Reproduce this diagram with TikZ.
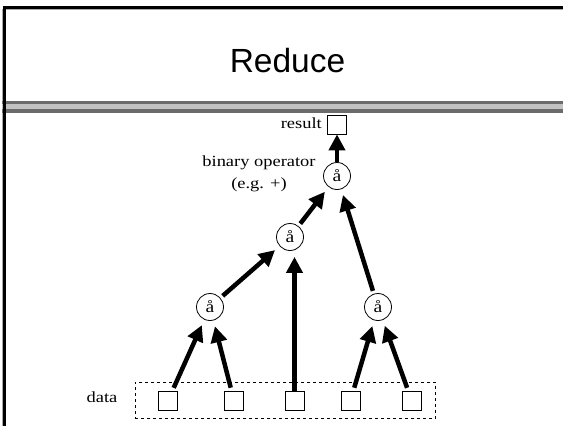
\documentclass[tikz,border=0pt]{standalone}
\usepackage{fontspec}
\setmainfont{Liberation Serif}
\newfontfamily\titlefont{Liberation Sans}
\newfontfamily\lblfont[FakeStretch=1.19]{Liberation Serif}
\usetikzlibrary{arrows.meta}
\definecolor{banddark}{RGB}{107,107,107}
\definecolor{bandlight}{RGB}{194,194,194}
\definecolor{frameshadow}{RGB}{170,170,170}
\begin{document}
\begin{tikzpicture}[x=1pt,y=-1pt,
  opnode/.style={circle,draw,line width=0.8pt,minimum size=27pt,inner sep=0pt,font=\lblfont\fontsize{16.5}{16.5}\selectfont},
  cell/.style={rectangle,draw,line width=0.8pt,minimum size=19pt,inner sep=0pt},
  flow/.style={line width=4.5pt,-{Triangle[length=16pt,width=16pt]},shorten >=6pt,shorten <=3pt},
  lbl/.style={font=\lblfont\fontsize{15.5}{15.5}\selectfont}]
\useasboundingbox (0,0) rectangle (563,426);
\fill[white] (0,0) rectangle (563,426);
% slide frame
\draw[frameshadow,line width=1.3pt] (2.6,426) -- (2.6,9.4) -- (563,9.4);
\fill[banddark] (2,100.7) rectangle (563,113.3);
\fill[bandlight] (2,103.7) rectangle (563,109.3);
\draw[line width=2.4pt] (4.5,426) -- (4.5,7.3) -- (563,7.3);
% title
\node[font=\titlefont\fontsize{33.5}{33.5}\selectfont,anchor=base,inner sep=0pt] (title) at (287.5,72) {Reduce};
% nodes
\node[cell] (res) at (337,124.5) {};
\node[lbl,anchor=base east,inner sep=0pt] (reslbl) at (322,128) {result};
\node[lbl,anchor=base,inner sep=0pt] (op1) at (259,166) {binary operator};
\node[lbl,anchor=base,inner sep=0pt] (op2) at (259,188) {(e.g. +)};
\node[opnode] (A) at (337,176) {å};
\node[opnode] (B) at (290,237) {å};
\node[opnode] (C) at (210,307) {å};
\node[opnode] (D) at (378,307) {å};
\node[draw,dashed,line width=0.8pt,inner sep=0pt,minimum width=300.3pt,minimum height=36.5pt] (grp) at (285.2,400.5) {};
\node[cell] (d1) at (168,400.5) {};
\node[cell] (d2) at (234,400.5) {};
\node[cell] (d3) at (294.5,400.5) {};
\node[cell] (d4) at (350.5,400.5) {};
\node[cell] (d5) at (411.7,400.5) {};
\node[lbl,anchor=base,inner sep=0pt] (datalbl) at (102,402) {data};
% connectors
\draw[flow] (d1) -- (C);
\draw[flow] (d2) -- (C);
\draw[flow] (d4) -- (D);
\draw[flow] (d5) -- (D);
\draw[flow] (C) -- (B);
\draw[flow] (B) -- (A);
\draw[flow] (D) -- (A);
\draw[flow,shorten >=0pt,shorten <=0pt] (A) -- (res);
\draw[flow,shorten <=0pt] (d3.north) -- (d3.north |- B.south);
\end{tikzpicture}
\end{document}
